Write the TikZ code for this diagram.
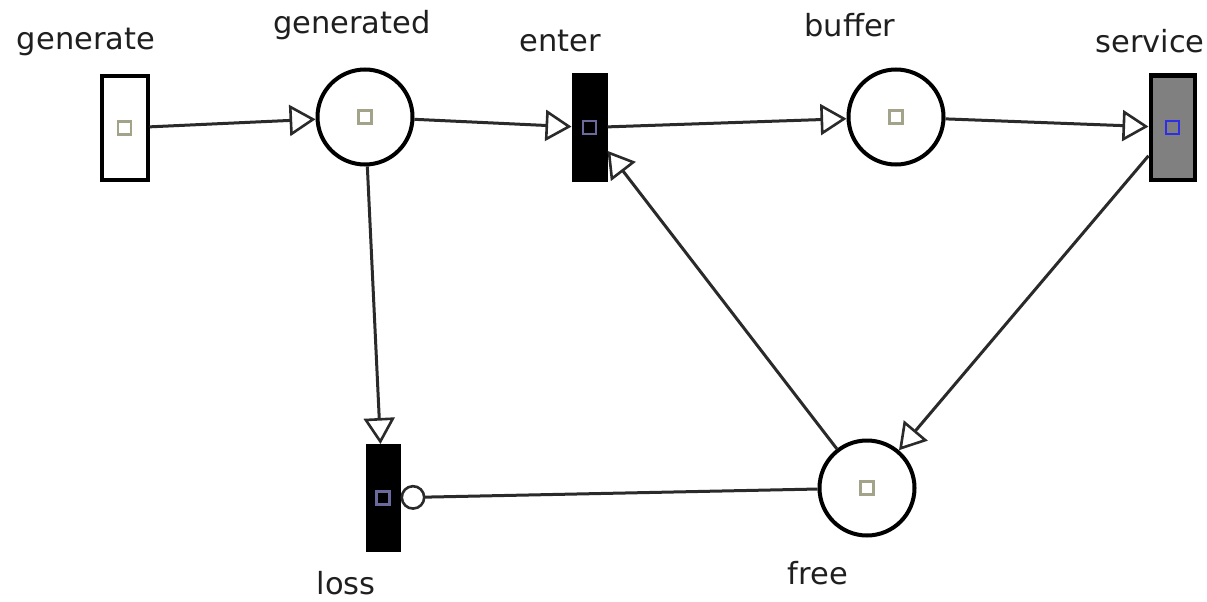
\documentclass[tikz,border=0pt]{standalone}
\usepackage{fontspec}
\setmainfont{DejaVu Sans}
\usetikzlibrary{arrows.meta}
\definecolor{mkolive}{HTML}{A3A38A}
\definecolor{mkpurple}{HTML}{6A6A9C}
\definecolor{mkblue}{HTML}{2E2EE6}
\definecolor{arcc}{HTML}{2A2A2A}
\tikzset{
  placenode/.style={circle,draw=black,line width=4pt,fill=white,minimum size=95pt,inner sep=0pt},
  transnode/.style={rectangle,draw=black,line width=4pt,inner sep=0pt,minimum width=#1,minimum height=104pt},
  lbl/.style={font=\fontsize{30.5}{36}\selectfont,text=black!88,inner sep=0pt},
  sq/.style={path picture={\draw[#1,line width=2.2pt] ([shift={(-6.5pt,-6.5pt)}]path picture bounding box.center) rectangle ++(13pt,13pt);}},
  arc/.style={draw=arcc,line width=3pt,-{Triangle[open,length=26pt,width=31pt,line width=2.6pt]}},
  inh/.style={draw=arcc,line width=3pt,-{Circle[open,length=25pt,line width=2.6pt]}}
}
\begin{document}
\begin{tikzpicture}[x=1pt,y=-1pt]
\useasboundingbox (0,0) rectangle (1207,602);
% nodes
\node[transnode=46pt,fill=white,sq=mkolive] (generate) at (124.5,128) {};
\node[placenode,sq=mkolive] (generated) at (365,117) {};
\node[transnode=32pt,fill=black,sq=mkpurple] (enter) at (589.5,127.5) {};
\node[placenode,sq=mkolive] (buffer) at (896,117) {};
\node[transnode=44pt,fill=black!50,sq=mkblue] (service) at (1172.5,127.5) {};
\node[transnode=31pt,fill=black,sq=mkpurple] (loss) at (383,498) {};
\node[placenode,sq=mkolive] (free) at (867,488) {};
% labels
\node[lbl] (l-generate) at (86,42) {generate};
\node[lbl] (l-generated) at (352,25) {generated};
\node[lbl] (l-enter) at (560,41) {enter};
\node[lbl] (l-buffer) at (850,25) {buffer};
\node[lbl] (l-service) at (1150,41) {service};
\node[lbl] (l-loss) at (346,583) {loss};
\node[lbl] (l-free) at (818,573) {free};
% arcs
\draw[arc] (generate) -- (generated);
\draw[arc] (generated) -- (enter);
\draw[arc] (enter) -- (buffer);
\draw[arc] (buffer) -- (service);
\draw[arc] (service) -- (free);
\draw[arc] (free) -- (enter);
\draw[arc] (generated) -- (loss);
\draw[inh] (free) -- (loss);
\end{tikzpicture}
\end{document}
